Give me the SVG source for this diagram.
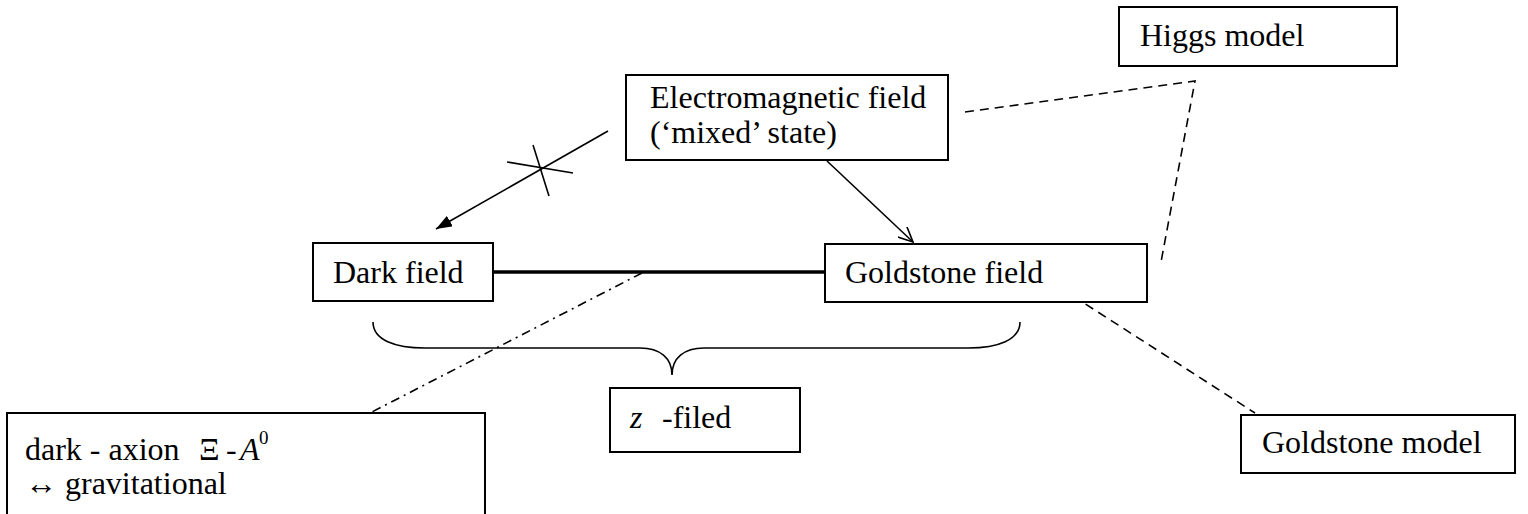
<svg xmlns="http://www.w3.org/2000/svg" width="1528" height="514" viewBox="0 0 1528 514">
<style>
.box{fill:#fff;stroke:#000;stroke-width:2}
.t{font-family:"Liberation Serif","Times New Roman",serif;font-size:32px;fill:#000}
.sup{font-family:"Liberation Serif","Times New Roman",serif;font-size:19px;fill:#000}
.ln{fill:none;stroke:#000;stroke-width:1.6}
.dash{fill:none;stroke:#000;stroke-width:1.6;stroke-dasharray:9 6}
.dashdot{fill:none;stroke:#000;stroke-width:1.6;stroke-dasharray:9 5 2 5}
</style>
<defs>
<marker id="filled" viewBox="0 0 16 12" refX="16" refY="6" markerWidth="16" markerHeight="12" markerUnits="userSpaceOnUse" orient="auto">
<path d="M0,0 L16,6 L0,12 Z" fill="#000"/>
</marker>
<marker id="open" viewBox="0 0 16 14" refX="15" refY="7" markerWidth="16" markerHeight="14" markerUnits="userSpaceOnUse" orient="auto">
<path d="M0,0 L15,7 L0,14" fill="none" stroke="#000" stroke-width="1.6"/>
</marker>
</defs>
<rect width="1528" height="514" fill="#fff"/>
<g id="connectors">
<line class="ln" x1="608" y1="131" x2="436" y2="229" marker-end="url(#filled)"/>
<line class="ln" x1="507" y1="162" x2="573" y2="173"/>
<line class="ln" x1="533" y1="145" x2="549" y2="196"/>
<line class="ln" x1="827" y1="161" x2="913" y2="242" marker-end="url(#open)"/>
<line x1="493" y1="272" x2="825" y2="272" stroke="#000" stroke-width="3.5"/>
<line class="dashdot" x1="642" y1="273" x2="368" y2="414"/>
<polyline class="dash" points="965,112 1195,81 1161,262"/>
<line class="dash" x1="1073" y1="296" x2="1255" y2="413"/>
<path class="ln" d="M373,322 C373,340 395,348 425,348 L640,348 C660,348 672,358 672,375 C672,358 684,348 704,348 L968,348 C998,348 1020,340 1020,322"/>
</g>
<g id="higgs">
<rect class="box" x="1119" y="7" width="278" height="59"/>
<text class="t" x="1140" y="46">Higgs model</text>
</g>
<g id="em">
<rect class="box" x="626" y="75" width="322" height="85"/>
<text class="t" x="650" y="108">Electromagnetic field</text>
<text class="t" x="650" y="143">(‘mixed’ state)</text>
</g>
<g id="dark">
<rect class="box" x="313" y="243" width="180" height="58"/>
<text class="t" x="333" y="283">Dark field</text>
</g>
<g id="goldstone-field">
<rect class="box" x="825" y="244" width="322" height="58"/>
<text class="t" x="845" y="283">Goldstone field</text>
</g>
<g id="zfiled">
<rect class="box" x="610" y="388" width="190" height="64"/>
<text class="t" x="630" y="428" style="font-style:italic">z</text>
<text class="t" x="662" y="428">-filed</text>
</g>
<g id="axion">
<rect class="box" x="7" y="413" width="478" height="110"/>
<text class="t" x="25" y="460">dark - axion</text>
<text class="t" x="199" y="460">Ξ</text>
<text class="t" x="226" y="460">-</text>
<text class="t" x="240" y="460" style="font-style:italic">A</text>
<text class="sup" x="259" y="444">0</text>
<text class="t" x="25" y="494">↔ gravitational</text>
</g>
<g id="goldstone-model">
<rect class="box" x="1241" y="415" width="274" height="58"/>
<text class="t" x="1262" y="453">Goldstone model</text>
</g>
</svg>
